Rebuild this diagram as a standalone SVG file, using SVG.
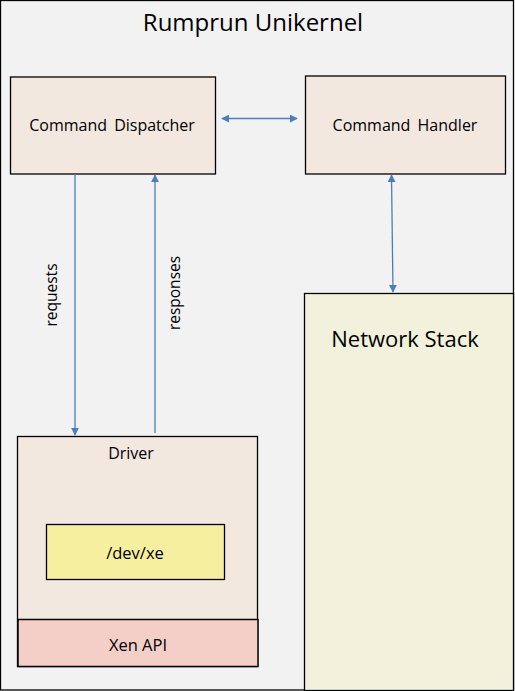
<svg xmlns="http://www.w3.org/2000/svg" width="515" height="691" viewBox="0 0 515 691">
<style>
.box{fill:#f2e8e0;stroke:#000;stroke-width:1.3}
.t{font-family:"Open Sans","Liberation Sans",sans-serif;fill:#000;text-anchor:middle}
.c{stroke:#4a7ebb;stroke-width:1.3;fill:none}
</style>
<defs>
<marker id="ah" viewBox="0 0 10 10" refX="9" refY="5" markerWidth="8" markerHeight="8" markerUnits="userSpaceOnUse" orient="auto-start-reverse">
<path d="M0,0 L10,5 L0,10 z" fill="#4a7ebb"/>
</marker>
</defs>
<g id="frame">
<rect x="0.5" y="0.5" width="513" height="689.5" fill="#f2f2f2" stroke="#000" stroke-width="1.3"/>
<text class="t" x="253" y="31" font-size="24">Rumprun Unikernel</text>
</g>
<g id="dispatcher">
<rect class="box" x="10.5" y="77" width="205" height="97"/>
<text class="t" x="112" y="131" font-size="16" word-spacing="3">Command Dispatcher</text>
</g>
<g id="handler">
<rect class="box" x="305.5" y="76" width="200" height="98"/>
<text class="t" x="405" y="131" font-size="16" word-spacing="3">Command Handler</text>
</g>
<g id="network">
<rect x="304.5" y="293.5" width="209" height="397" fill="#f2f2dc" stroke="#000" stroke-width="1.3"/>
<text class="t" x="405" y="347" font-size="22">Network Stack</text>
</g>
<g id="driver">
<rect class="box" x="17.5" y="436.5" width="240" height="230"/>
<text class="t" x="131" y="459" font-size="16">Driver</text>
</g>
<g id="devxe">
<rect x="46.5" y="524.5" width="178" height="55" fill="#f7efa0" stroke="#000" stroke-width="1.3"/>
<text class="t" x="135" y="559" font-size="16.5">/dev/xe</text>
</g>
<g id="xenapi">
<rect x="18" y="619.5" width="240" height="47" fill="#f4cfc8" stroke="#000" stroke-width="1.5"/>
<text class="t" x="138" y="651" font-size="16.5">Xen API</text>
</g>
<g id="connectors">
<line class="c" x1="222" y1="118.5" x2="297" y2="118.5" marker-start="url(#ah)" marker-end="url(#ah)"/>
<line class="c" x1="75" y1="174" x2="75" y2="435" marker-end="url(#ah)"/>
<line class="c" x1="155" y1="433" x2="155" y2="175" marker-end="url(#ah)"/>
<line class="c" x1="391.5" y1="175" x2="393" y2="292" marker-start="url(#ah)" marker-end="url(#ah)"/>
<text class="t" x="0" y="0" font-size="15.5" transform="translate(57,295) rotate(-90)">requests</text>
<text class="t" x="0" y="0" font-size="15.5" transform="translate(180,293) rotate(-90)">responses</text>
</g>
</svg>
